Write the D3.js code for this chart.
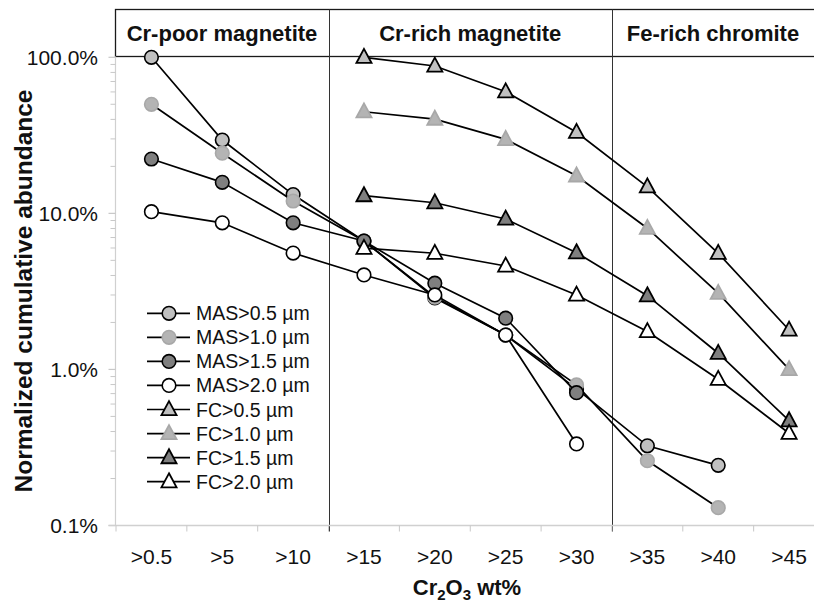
<!DOCTYPE html>
<html>
<head>
<meta charset="utf-8">
<script src="https://cdn.jsdelivr.net/npm/d3@7"></script>
<style>
  html, body { margin: 0; padding: 0; background: #fff; }
  svg { display: block; font-family: "Liberation Sans", Arial, sans-serif; }
</style>
</head>
<body>
<svg id="chart" width="814" height="603"></svg>
<script>
// ---- data ----
const categories = [">0.5", ">5", ">10", ">15", ">20", ">25", ">30", ">35", ">40", ">45"];
const yTickValues = [100, 10, 1, 0.1];
const yTickLabels = ["100.0%", "10.0%", "1.0%", "0.1%"];
const zoneLabels = ["Cr-poor magnetite", "Cr-rich magnetite", "Fe-rich chromite"];
const zoneStarts = [0, 3, 7];
const seriesNames = ["MAS>0.5 µm", "MAS>1.0 µm", "MAS>1.5 µm", "MAS>2.0 µm",
                     "FC>0.5 µm", "FC>1.0 µm", "FC>1.5 µm", "FC>2.0 µm"];
// values in percent, null = no point
const mas05 = [100, 29.5, 13.2, 6.65, 2.87, 1.66, 0.75, 0.324, 0.243, null];
const mas10 = [50, 24.3, 12.0, 6.65, 2.91, 1.66, 0.796, 0.26, 0.130, null];
const mas15 = [22.3, 15.8, 8.7, 6.65, 3.57, 2.13, 0.71, null, null, null];
const mas20 = [10.25, 8.7, 5.57, 4.03, 3.0, 1.66, 0.333, null, null, null];
const fc05 = [null, null, null, 100, 88, 60.2, 33.1, 14.8, 5.55, 1.79];
const fc10 = [null, null, null, 44.8, 40.2, 29.8, 17.4, 8.03, 3.08, 1.0];
const fc15 = [null, null, null, 13.0, 11.7, 9.2, 5.6, 2.97, 1.27, 0.47];
const fc20 = [null, null, null, 5.98, 5.55, 4.6, 3.0, 1.75, 0.865, 0.39];

const seriesValues = [mas05, mas10, mas15, mas20, fc05, fc10, fc15, fc20];
const seriesShape = ["circle", "circle", "circle", "circle", "triangle", "triangle", "triangle", "triangle"];
const seriesFill = ["#c0c0c0", "#b4b4b4", "#7f7f7f", "#ffffff", "#c0c0c0", "#b4b4b4", "#7f7f7f", "#ffffff"];
const seriesStroke = ["#000", "#a8a8a8", "#000", "#000", "#000", "#a8a8a8", "#000", "#000"];

// ---- layout ----
const svg = d3.select("#chart");
const plotLeft = 115.5, plotTop = 56.5, plotBottom = 525.5;
const bandW = 70.85;
const x = d3.scaleBand().domain(categories)
  .range([116, 116 + bandW * categories.length]).paddingInner(0).paddingOuter(0);
const xc = c => x(c) + x.bandwidth() / 2;
const y = d3.scaleLog().domain([0.1, 100]).range([plotBottom, 57.3]);

// header box
const boxTop = 9.5;
svg.append("rect").attr("x", plotLeft).attr("y", boxTop)
  .attr("width", 820 - plotLeft).attr("height", plotTop - boxTop)
  .attr("fill", "none").attr("stroke", "#1a1a1a").attr("stroke-width", 1.3);

// zone dividers
zoneStarts.slice(1).forEach(i => {
  const xx = Math.round(x(categories[i])) + 0.5;
  svg.append("line").attr("x1", xx).attr("x2", xx).attr("y1", boxTop).attr("y2", plotBottom + 6)
    .attr("stroke", "#333").attr("stroke-width", 1);
});

// zone labels
zoneLabels.forEach((lab, i) => {
  const start = i === 0 ? plotLeft : x(categories[zoneStarts[i]]);
  const end = i + 1 < zoneStarts.length ? x(categories[zoneStarts[i + 1]]) : 814;
  svg.append("text").attr("x", (start + end) / 2).attr("y", 40.5)
    .attr("text-anchor", "middle").attr("font-size", 22).attr("font-weight", "bold")
    .attr("fill", "#111").text(lab);
});

// y axis
const yAxisG = svg.append("g");
yAxisG.append("line").attr("x1", plotLeft).attr("x2", plotLeft).attr("y1", plotTop).attr("y2", plotBottom)
  .attr("stroke", "#d0d0d0").attr("stroke-width", 1.2);
const minorTicks = [];
[0.1, 1, 10].forEach(d => { for (let k = 2; k <= 9; k++) minorTicks.push(d * k); });
minorTicks.forEach(v => {
  yAxisG.append("line").attr("x1", plotLeft - 5).attr("x2", plotLeft).attr("y1", y(v)).attr("y2", y(v))
    .attr("stroke", "#c8c8c8").attr("stroke-width", 1);
});
yTickValues.forEach((v, i) => {
  yAxisG.append("line").attr("x1", plotLeft - 7).attr("x2", plotLeft).attr("y1", y(v)).attr("y2", y(v))
    .attr("stroke", "#c8c8c8").attr("stroke-width", 1.2);
  yAxisG.append("text").attr("x", 98).attr("y", y(v) + 7.5).attr("text-anchor", "end")
    .attr("font-size", 21).attr("fill", "#111").text(yTickLabels[i]);
});

// x axis
const xAxisG = svg.append("g");
xAxisG.append("line").attr("x1", plotLeft - 7).attr("x2", 814).attr("y1", plotBottom).attr("y2", plotBottom)
  .attr("stroke", "#d0d0d0").attr("stroke-width", 1.5);
categories.forEach((c, i) => {
  const xx = x(c);
  xAxisG.append("line").attr("x1", xx).attr("x2", xx).attr("y1", plotBottom).attr("y2", plotBottom + 6)
    .attr("stroke", "#c8c8c8").attr("stroke-width", 1);
  xAxisG.append("text").attr("x", xc(c)).attr("y", 564).attr("text-anchor", "middle")
    .attr("font-size", 21).attr("fill", "#111").text(c);
});

// axis titles
svg.append("text").attr("transform", `translate(32,${(plotTop + plotBottom) / 2}) rotate(-90)`)
  .attr("text-anchor", "middle").attr("font-size", 24.5).attr("font-weight", "bold").attr("fill", "#111")
  .text("Normalized cumulative abundance");
const xt = svg.append("text").attr("x", 467).attr("y", 595).attr("text-anchor", "middle")
  .attr("font-size", 22).attr("font-weight", "bold").attr("fill", "#111");
xt.append("tspan").text("Cr");
xt.append("tspan").attr("font-size", 15).attr("dy", 5).text("2");
xt.append("tspan").attr("dy", -5).text("O");
xt.append("tspan").attr("font-size", 15).attr("dy", 5).text("3");
xt.append("tspan").attr("dy", -5).text(" wt%");

// markers
const triPath = s => `M0,${-s * 0.62}L${s * 0.56},${s * 0.42}L${-s * 0.56},${s * 0.42}Z`;
function drawMarker(g, shape, cx, cy, fill, stroke) {
  if (shape === "circle") {
    g.append("circle").attr("cx", cx).attr("cy", cy).attr("r", 6.8)
      .attr("fill", fill).attr("stroke", stroke).attr("stroke-width", 1.6);
  } else {
    g.append("path").attr("d", triPath(13.5)).attr("transform", `translate(${cx},${cy})`)
      .attr("fill", fill).attr("stroke", stroke).attr("stroke-width", 1.8).attr("stroke-linejoin", "miter");
  }
}

// series
const line = d3.line().defined(d => d.v != null).x(d => xc(d.c)).y(d => y(d.v));
seriesValues.forEach((vals, si) => {
  const pts = categories.map((c, i) => ({ c, v: vals[i] }));
  const g = svg.append("g");
  g.append("path").attr("d", line(pts)).attr("fill", "none").attr("stroke", "#000").attr("stroke-width", 1.7);
  pts.filter(d => d.v != null).forEach(d => drawMarker(g, seriesShape[si], xc(d.c), y(d.v), seriesFill[si], seriesStroke[si]));
});

// legend
const legRows = seriesNames.map((n, i) => 313.3 + 24.05 * i);
seriesNames.forEach((n, i) => {
  const g = svg.append("g");
  const ly = legRows[i];
  g.append("line").attr("x1", 147).attr("x2", 190).attr("y1", ly).attr("y2", ly)
    .attr("stroke", "#000").attr("stroke-width", 1.7);
  drawMarker(g, seriesShape[i], 169, ly, seriesFill[i], seriesStroke[i]);
  g.append("text").attr("x", 196).attr("y", ly + 7).attr("font-size", 19.5).attr("fill", "#111").text(n);
});
</script>
</body>
</html>
